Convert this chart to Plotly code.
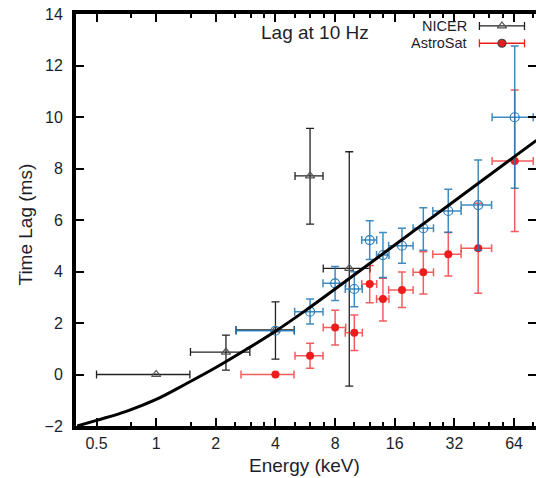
import plotly.graph_objects as go

# ── Data ─────────────────────────────────────────────────────────────────────
# NICER (open grey triangles)
nicer_e = [1.0, 2.25, 4.0, 5.98, 9.43]
nicer_lag = [0.0, 0.87, 1.73, 7.71, 4.12]
nicer_e_lo = [0.5, 1.49, 2.53, 5.02, 6.97]
nicer_e_hi = [1.48, 2.97, 4.98, 6.95, 12.0]
nicer_lag_lo = [0.0, 0.17, 0.6, 5.84, -0.45]
nicer_lag_hi = [0.0, 1.53, 2.82, 9.56, 8.65]

# AstroSat (filled red circles)
astro_e = [4.0, 5.98, 8.0, 10.0, 11.96, 13.95, 17.4, 22.3, 29.8, 42.2, 64.5]
astro_lag = [0.0, 0.73, 1.83, 1.62, 3.51, 2.93, 3.28, 3.97, 4.67, 4.9, 8.29]
astro_e_lo = [2.68, 5.02, 6.97, 9.0, 10.9, 12.95, 14.9, 19.8, 24.9, 34.6, 49.6]
astro_e_hi = [4.96, 6.95, 9.05, 10.97, 12.97, 14.96, 19.8, 25.1, 34.6, 49.3, 80.0]
astro_lag_lo = [0.0, 0.24, 1.15, 0.93, 2.79, 2.08, 2.6, 3.13, 3.83, 3.16, 5.55]
astro_lag_hi = [0.0, 1.21, 2.5, 2.31, 4.23, 3.74, 3.98, 4.77, 5.51, 6.65, 11.05]

# second AstroSat set (open blue circles, not in legend)
blue_e = [4.0, 5.98, 8.0, 10.0, 11.96, 13.95, 17.4, 22.3, 29.8, 42.2, 64.5]
blue_lag = [1.7, 2.44, 3.54, 3.32, 5.22, 4.64, 5.0, 5.68, 6.35, 6.58, 9.99]
blue_e_lo = [2.53, 5.0, 6.95, 9.0, 10.9, 12.95, 14.9, 19.8, 24.9, 34.6, 49.6]
blue_e_hi = [4.98, 6.95, 9.05, 10.97, 12.97, 14.96, 19.8, 25.1, 34.6, 49.3, 80.0]
blue_lag_lo = [1.7, 1.96, 2.87, 2.63, 4.47, 3.77, 4.32, 4.83, 5.52, 4.83, 7.23]
blue_lag_hi = [1.7, 2.93, 4.19, 3.99, 5.97, 5.51, 5.68, 6.48, 7.19, 8.33, 12.76]

# model curve (black)
model_e = [0.4, 0.5, 0.707, 1.0, 1.41, 2.0, 2.83, 4.0, 5.66, 8.0, 16.0, 32.0, 64.0, 83.0]
model_lag = [-2.0, -1.78, -1.43, -0.97, -0.37, 0.27, 0.96, 1.68, 2.48, 3.32, 5.03, 6.74, 8.45, 9.09]

x_ticks = [0.5, 1, 2, 4, 8, 16, 32, 64]
x_ticktext = ["0.5", "1", "2", "4", "8", "16", "32", "64"]
x_minor = [0.75, 1.5, 2.5, 3, 3.5, 5, 6, 7, 10, 12, 14, 20, 24, 28, 40, 48, 56, 80]

FONT = "Liberation Sans, Arial, sans-serif"
TXT = "#1e1e2a"
RED = "#ee1d1d"
RED_ERR = "rgba(238,40,40,0.75)"
BLUE = "#2b7bb9"
BLUE_ERR = "rgba(31,119,180,0.85)"
GREY = "#555555"


def errs(c, lo, hi):
    return [h - v for v, h in zip(c, hi)], [v - l for v, l in zip(c, lo)]


fig = go.Figure()

# NICER
ex_p, ex_m = errs(nicer_e, nicer_e_lo, nicer_e_hi)
ey_p, ey_m = errs(nicer_lag, nicer_lag_lo, nicer_lag_hi)
fig.add_trace(go.Scatter(
    x=nicer_e, y=nicer_lag, mode="markers", showlegend=False,
    marker=dict(symbol="triangle-up-open", size=8, color=GREY, line=dict(width=1.2)),
    error_x=dict(type="data", symmetric=False, array=ex_p, arrayminus=ex_m,
                 color="#222", thickness=1.3, width=4),
    error_y=dict(type="data", symmetric=False, array=ey_p, arrayminus=ey_m,
                 color="#222", thickness=1.3, width=4),
))

# AstroSat red
ex_p, ex_m = errs(astro_e, astro_e_lo, astro_e_hi)
ey_p, ey_m = errs(astro_lag, astro_lag_lo, astro_lag_hi)
fig.add_trace(go.Scatter(
    x=astro_e, y=astro_lag, mode="markers", showlegend=False,
    marker=dict(symbol="circle", size=8, color=RED),
    error_x=dict(type="data", symmetric=False, array=ex_p, arrayminus=ex_m,
                 color=RED_ERR, thickness=1.5, width=4),
    error_y=dict(type="data", symmetric=False, array=ey_p, arrayminus=ey_m,
                 color=RED_ERR, thickness=1.5, width=4),
))

# blue set
ex_p, ex_m = errs(blue_e, blue_e_lo, blue_e_hi)
ey_p, ey_m = errs(blue_lag, blue_lag_lo, blue_lag_hi)
fig.add_trace(go.Scatter(
    x=blue_e, y=blue_lag, mode="markers", showlegend=False,
    marker=dict(symbol="circle-open", size=9, color=BLUE, line=dict(width=1.2)),
    error_x=dict(type="data", symmetric=False, array=ex_p, arrayminus=ex_m,
                 color=BLUE_ERR, thickness=1.5, width=4),
    error_y=dict(type="data", symmetric=False, array=ey_p, arrayminus=ey_m,
                 color=BLUE_ERR, thickness=1.5, width=4),
))

# model curve
fig.add_trace(go.Scatter(
    x=model_e, y=model_lag, mode="lines", showlegend=False,
    line=dict(color="black", width=3, shape="spline", smoothing=1.0),
))

# ── hand-made key (text left of the symbol, gnuplot style) ──────────────────
key_x, key_half = 0.926, 0.049
key_rows = [("NICER", 0.971, "triangle-up-open", GREY, "#222"),
            ("AstroSat", 0.929, "circle", RED, RED)]
for name, ky, sym, mcol, ecol in key_rows:
    fig.add_trace(go.Scatter(
        x=[key_x], y=[ky], xaxis="x2", yaxis="y2", mode="markers", showlegend=False,
        marker=dict(symbol=sym, size=8, color=mcol, line=dict(width=1.2)),
        error_x=dict(type="constant", value=key_half, color=ecol, thickness=1.3, width=4),
    ))
    fig.add_annotation(x=0.855, y=ky, xref="paper", yref="paper", text=name,
                       showarrow=False, xanchor="right", yanchor="middle",
                       font=dict(family=FONT, size=14.5, color=TXT))

fig.add_annotation(x=0.52, y=0.954, xref="paper", yref="paper", text="Lag at 10 Hz",
                   showarrow=False, xanchor="center", yanchor="middle",
                   font=dict(family=FONT, size=19, color=TXT))

# axis titles placed by hand so the plot box stays fixed
fig.add_annotation(x=0.497, y=-0.095, xref="paper", yref="paper", text="Energy (keV)",
                   showarrow=False, xanchor="center", yanchor="middle",
                   font=dict(family=FONT, size=19, color=TXT))
fig.add_annotation(x=-0.11, y=0.49, xref="paper", yref="paper", text="Time Lag (ms)",
                   showarrow=False, xanchor="center", yanchor="middle", textangle=-90,
                   font=dict(family=FONT, size=19, color=TXT))

fig.update_layout(
    width=536, height=478,
    margin=dict(l=76, r=0, t=14, b=52),
    paper_bgcolor="white", plot_bgcolor="white",
    font=dict(family=FONT, color=TXT),
    xaxis=dict(
        type="log", range=[-0.4046, 1.917], automargin=False,
        tickvals=x_ticks, ticktext=x_ticktext,
        ticks="inside", ticklen=8, tickwidth=1.5, tickcolor="black",
        minor=dict(tickvals=x_minor, ticks="inside", ticklen=4, tickwidth=1.5, tickcolor="black"),
        showline=True, linewidth=4, linecolor="black", mirror="allticks",
        showgrid=False, zeroline=False,
        tickfont=dict(size=16, color=TXT),
    ),
    yaxis=dict(
        range=[-2, 14], tick0=0, dtick=2, automargin=False,
        ticks="inside", ticklen=8, tickwidth=1.5, tickcolor="black",
        showline=True, linewidth=4, linecolor="black", mirror="allticks",
        showgrid=False, zeroline=False,
        tickfont=dict(size=16, color=TXT), ticklabelstandoff=6,
    ),
    xaxis2=dict(overlaying="x", range=[0, 1], visible=False),
    yaxis2=dict(overlaying="y", range=[0, 1], visible=False),
)

# the page's default body margin would shift the whole figure by 8 px
fig.write_html("out.html", config={"displayModeBar": False},
               post_script="document.body.style.margin='0px';")
